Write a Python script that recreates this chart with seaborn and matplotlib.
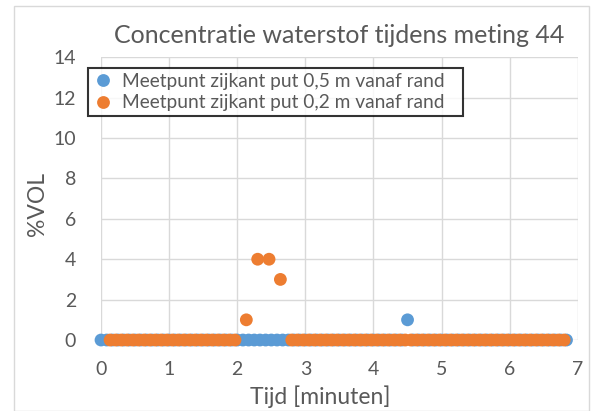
import numpy as np
import pandas as pd
import seaborn as sns
import matplotlib.pyplot as plt
from matplotlib.patches import Rectangle

# Meetgegevens (tijd in seconden, concentratie in %VOL)
tijd_05_s = [0, 5, 10, 15, 20, 25, 30, 35, 40, 45, 50, 55, 60, 65, 70, 75,
             80, 85, 90, 95, 100, 105, 110, 115, 120, 125, 130, 135, 140, 145,
             150, 155, 160, 165, 170, 175, 180, 185, 190, 195, 200, 205, 210,
             215, 220, 225, 230, 235, 240, 245, 250, 255, 260, 265, 270, 275,
             280, 285, 290, 295, 300, 305, 310, 315, 320, 325, 330, 335, 340,
             345, 350, 355, 360, 365, 370, 375, 380, 385, 390, 395, 400, 405,
             410]
conc_05 = [0, 0, 0, 0, 0, 0, 0, 0, 0, 0, 0, 0, 0, 0, 0, 0,
           0, 0, 0, 0, 0, 0, 0, 0, 0, 0, 0, 0, 0, 0,
           0, 0, 0, 0, 0, 0, 0, 0, 0, 0, 0, 0, 0,
           0, 0, 0, 0, 0, 0, 0, 0, 0, 0, 0, 1, 0,
           0, 0, 0, 0, 0, 0, 0, 0, 0, 0, 0, 0, 0,
           0, 0, 0, 0, 0, 0, 0, 0, 0, 0, 0, 0, 0,
           0]

tijd_02_s = [8, 13, 18, 23, 28, 33, 38, 43, 48, 53, 58, 63, 68, 73, 78, 83,
             88, 93, 98, 103, 108, 113, 118, 128, 138, 148, 158, 168, 173,
             178, 183, 188, 193, 198, 203, 208, 213, 218, 223, 228, 233, 238,
             243, 248, 253, 258, 263, 268, 273, 278, 283, 288, 293, 298, 303,
             308, 313, 318, 323, 328, 333, 338, 343, 348, 353, 358, 363, 368,
             373, 378, 383, 388, 393, 398, 403, 408]
conc_02 = [0, 0, 0, 0, 0, 0, 0, 0, 0, 0, 0, 0, 0, 0, 0, 0,
           0, 0, 0, 0, 0, 0, 0, 1, 4, 4, 3, 0, 0,
           0, 0, 0, 0, 0, 0, 0, 0, 0, 0, 0, 0, 0,
           0, 0, 0, 0, 0, 0, 0, 0, 0, 0, 0, 0, 0,
           0, 0, 0, 0, 0, 0, 0, 0, 0, 0, 0, 0, 0,
           0, 0, 0, 0, 0, 0, 0, 0]

reeks_05 = "Meetpunt zijkant put 0,5 m vanaf rand"
reeks_02 = "Meetpunt zijkant put 0,2 m vanaf rand"

df = pd.concat([
    pd.DataFrame({"tijd": np.array(tijd_05_s) / 60, "conc": conc_05, "reeks": reeks_05}),
    pd.DataFrame({"tijd": np.array(tijd_02_s) / 60, "conc": conc_02, "reeks": reeks_02}),
], ignore_index=True)

sns.set_style("white")
plt.rcParams['font.family'] = ['Lato', 'DejaVu Sans']

fig = plt.figure(figsize=(5.96, 4.11), dpi=100)
ax = fig.add_axes([0.1695, 0.1727, 0.800, 0.688])

sns.scatterplot(data=df, x="tijd", y="conc", hue="reeks",
                palette={reeks_05: "#5B9BD5", reeks_02: "#ED7D31"},
                s=85, edgecolor="none", ax=ax, clip_on=False, zorder=3)

ax.set_xlim(0, 7)
ax.set_ylim(0, 14)
ax.set_xticks(range(0, 8))
ax.set_yticks(range(0, 15, 2))
ax.grid(True, color="#d9d9d9", linewidth=1)
ax.set_axisbelow(True)
for s in ax.spines.values():
    s.set_visible(False)
ax.tick_params(length=0, labelsize=14, colors="#595959")
ax.tick_params(axis="y", pad=18)
ax.tick_params(axis="x", pad=15)

ax.set_xlabel("Tijd [minuten]", fontsize=16.5, color="#595959")
ax.set_ylabel("%VOL", fontsize=16.5, color="#595959")
ax.xaxis.label.set_va("center")
ax.yaxis.label.set_va("center")
ax.xaxis.set_label_coords(0.46, -0.2)
ax.yaxis.set_label_coords(-0.134, 0.48)
ax.set_title("Concentratie waterstof tijdens meting 44", fontsize=18,
             color="#595959", pad=10)

handles, labels = ax.get_legend_handles_labels()
ax.get_legend().remove()
leg = fig.legend(handles, labels, loc="upper left", mode="expand",
                 bbox_to_anchor=(0.148, 0.706, 0.629, 0.129), borderaxespad=0,
                 fontsize=13.8, frameon=True, fancybox=False,
                 handletextpad=0.5, handlelength=1.0, labelspacing=0.25,
                 borderpad=0.25)
leg.get_frame().set_edgecolor("black")
leg.get_frame().set_linewidth(1.5)
for t in leg.get_texts():
    t.set_color("#595959")

# lichte rand rond de grafiek
fig.patches.append(Rectangle((0.024, 0.0), 0.965, 0.985, transform=fig.transFigure,
                             fill=False, edgecolor="#d9d9d9", linewidth=1))

plt.savefig("out.png", dpi=100)
